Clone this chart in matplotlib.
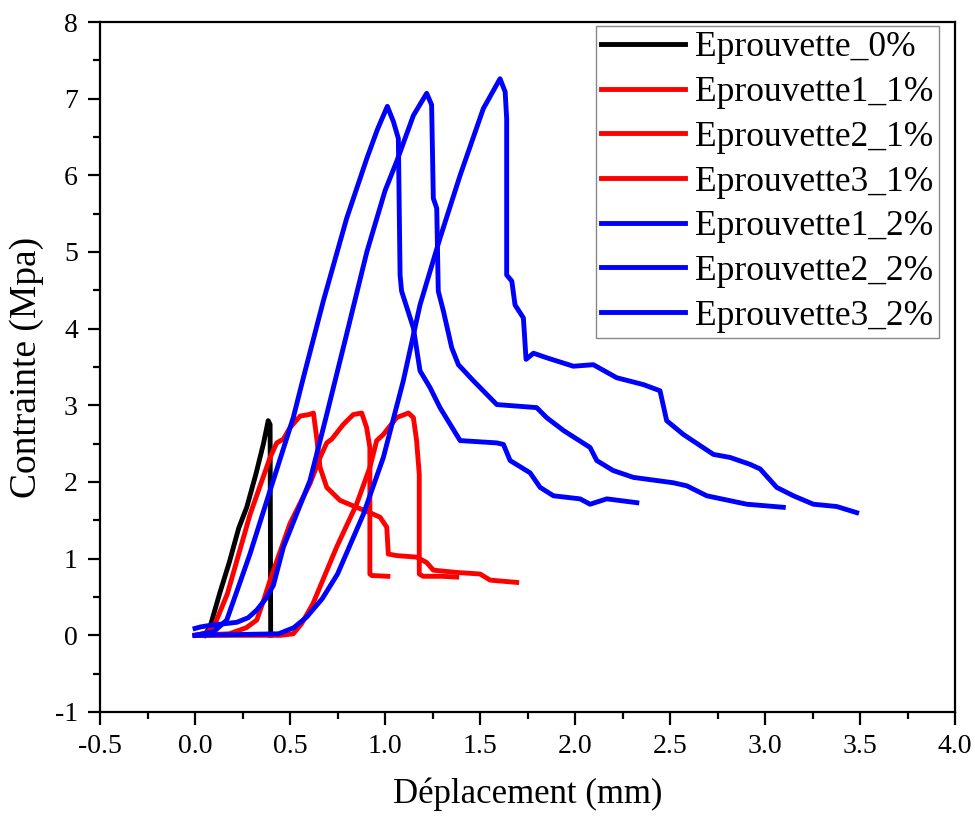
import matplotlib.pyplot as plt

plt.rcParams['font.family'] = ['Liberation Serif', 'DejaVu Serif']
plt.rcParams['axes.unicode_minus'] = False

# Eprouvette_0%
x_0 = [0.05, 0.08, 0.13, 0.18, 0.23, 0.272, 0.32, 0.36, 0.385, 0.395, 0.397, 0.398]
y_0 = [0.0, 0.12, 0.55, 0.95, 1.4, 1.67, 2.1, 2.5, 2.8, 2.75, 1.0, 0.0]

# Eprouvette1_1%
x_1_1 = [0.0, 0.06, 0.1, 0.17, 0.29, 0.395, 0.43, 0.465, 0.5, 0.553, 0.6, 0.623,
         0.64, 0.658, 0.693, 0.763, 0.85, 0.92, 0.974, 1.009, 1.017, 1.061, 1.166,
         1.219, 1.254, 1.377, 1.5, 1.553, 1.693]
y_1_1 = [0.0, 0.03, 0.12, 0.54, 1.58, 2.32, 2.51, 2.56, 2.71, 2.86, 2.88, 2.9,
         2.58, 2.19, 1.93, 1.76, 1.67, 1.6, 1.54, 1.41, 1.06, 1.04, 1.02,
         0.95, 0.85, 0.82, 0.8, 0.72, 0.69]

# Eprouvette2_1%
x_2_1 = [0.0, 0.18, 0.27, 0.325, 0.36, 0.395, 0.5, 0.605, 0.658, 0.693, 0.72, 0.78,
         0.833, 0.877, 0.903, 0.92, 0.92, 0.93, 1.015]
y_2_1 = [0.0, 0.02, 0.1, 0.2, 0.45, 0.72, 1.46, 1.98, 2.32, 2.51, 2.56, 2.75,
         2.88, 2.9, 2.71, 2.45, 0.8, 0.78, 0.77]

# Eprouvette3_1%
x_3_1 = [0.0, 0.45, 0.517, 0.56, 0.62, 0.745, 0.85, 0.92, 0.956, 0.991, 1.061, 1.123,
         1.149, 1.166, 1.18, 1.18, 1.2, 1.3, 1.377]
y_3_1 = [0.0, 0.0, 0.02, 0.15, 0.41, 1.15, 1.71, 2.19, 2.54, 2.62, 2.84, 2.9,
         2.84, 2.54, 2.1, 0.8, 0.77, 0.77, 0.76]

# Eprouvette1_2%
x_1_2 = [0.0, 0.1, 0.167, 0.289, 0.395, 0.517, 0.57, 0.675, 0.798, 0.904, 0.96, 1.012,
         1.044, 1.07, 1.079, 1.087, 1.149, 1.184, 1.237, 1.289, 1.395, 1.588, 1.623,
         1.658, 1.763, 1.816, 1.886, 2.026, 2.079, 2.167, 2.325]
y_1_2 = [0.0, 0.05, 0.2, 1.06, 1.89, 2.84, 3.36, 4.36, 5.44, 6.22, 6.6, 6.9,
         6.7, 6.48, 4.7, 4.49, 4.01, 3.45, 3.23, 2.97, 2.54, 2.51, 2.49,
         2.28, 2.12, 1.93, 1.82, 1.78, 1.71, 1.78, 1.73]

# Eprouvette2_2%
x_2_2 = [0.0, 0.03, 0.079, 0.22, 0.28, 0.325, 0.37, 0.412, 0.465, 0.605, 0.693, 0.8,
         0.904, 1.0, 1.061, 1.149, 1.219, 1.245, 1.254, 1.272, 1.28, 1.307, 1.351,
         1.386, 1.465, 1.588, 1.798, 1.85, 1.94, 2.079, 2.114, 2.2, 2.307, 2.517,
         2.588, 2.693, 2.904, 3.096]
y_2_2 = [0.09, 0.11, 0.13, 0.17, 0.23, 0.33, 0.47, 0.65, 1.15, 2.02, 2.88, 3.95,
         5.0, 5.8, 6.18, 6.78, 7.07, 6.92, 5.7, 5.57, 4.49, 4.23, 3.75,
         3.53, 3.32, 3.01, 2.97, 2.84, 2.67, 2.45, 2.28, 2.15, 2.06, 1.99,
         1.95, 1.82, 1.71, 1.67]

# Eprouvette3_2%
x_3_2 = [0.0, 0.44, 0.52, 0.588, 0.67, 0.75, 0.886, 0.991, 1.096, 1.184, 1.289, 1.395,
         1.517, 1.605, 1.632, 1.64, 1.64, 1.667, 1.684, 1.728, 1.742, 1.781, 1.851,
         1.991, 2.096, 2.219, 2.36, 2.447, 2.482, 2.57, 2.728, 2.816, 2.921, 2.974,
         3.061, 3.149, 3.254, 3.377, 3.482]
y_3_2 = [0.0, 0.02, 0.1, 0.24, 0.48, 0.8, 1.58, 2.32, 3.32, 4.31, 5.18, 6.0,
         6.87, 7.26, 7.09, 6.74, 4.7, 4.62, 4.31, 4.14, 3.6, 3.68, 3.62,
         3.51, 3.53, 3.36, 3.27, 3.19, 2.8, 2.62, 2.36, 2.32, 2.23, 2.17,
         1.93, 1.82, 1.71, 1.68, 1.6]

series = [
    (x_0, y_0, 'black', 'Eprouvette_0%'),
    (x_1_1, y_1_1, 'red', 'Eprouvette1_1%'),
    (x_2_1, y_2_1, 'red', 'Eprouvette2_1%'),
    (x_3_1, y_3_1, 'red', 'Eprouvette3_1%'),
    (x_1_2, y_1_2, 'blue', 'Eprouvette1_2%'),
    (x_2_2, y_2_2, 'blue', 'Eprouvette2_2%'),
    (x_3_2, y_3_2, 'blue', 'Eprouvette3_2%'),
]

fig = plt.figure(figsize=(9.75, 8.18), dpi=100)
ax = fig.add_axes([0.1026, 0.1296, 0.877, 0.8435])

for xs, ys, col, lab in series:
    ax.plot(xs, ys, color=col, lw=3.5, label=lab, solid_joinstyle='round')

ax.set_xlim(-0.5, 4.0)
ax.set_ylim(-1, 8)
ax.set_xticks([-0.5, 0.0, 0.5, 1.0, 1.5, 2.0, 2.5, 3.0, 3.5, 4.0])
ax.set_xticklabels(['-0.5', '0.0', '0.5', '1.0', '1.5', '2.0', '2.5', '3.0', '3.5', '4.0'])
ax.set_yticks(range(-1, 9))
ax.set_xticks([-0.25 + 0.5 * i for i in range(9)], minor=True)
ax.set_yticks([-0.5 + i for i in range(9)], minor=True)

for sp in ax.spines.values():
    sp.set_linewidth(1.6)
ax.tick_params(which='major', direction='out', length=9, width=1.6, labelsize=20, pad=7)
ax.tick_params(which='minor', direction='out', length=5, width=1.6)

ax.set_xlabel('Déplacement (mm)', fontsize=25, labelpad=13)
ax.set_ylabel('Contrainte (Mpa)', fontsize=27, labelpad=8)

leg = ax.legend(loc='upper right', bbox_to_anchor=(0.981, 0.994), borderaxespad=0,
                fontsize=25.5, frameon=True, fancybox=False, framealpha=1,
                edgecolor='#888888', handlelength=2.35, handletextpad=0.3,
                borderpad=0.15, labelspacing=0.33)
leg.get_frame().set_linewidth(1.0)

fig.savefig('out.png', dpi=100)
